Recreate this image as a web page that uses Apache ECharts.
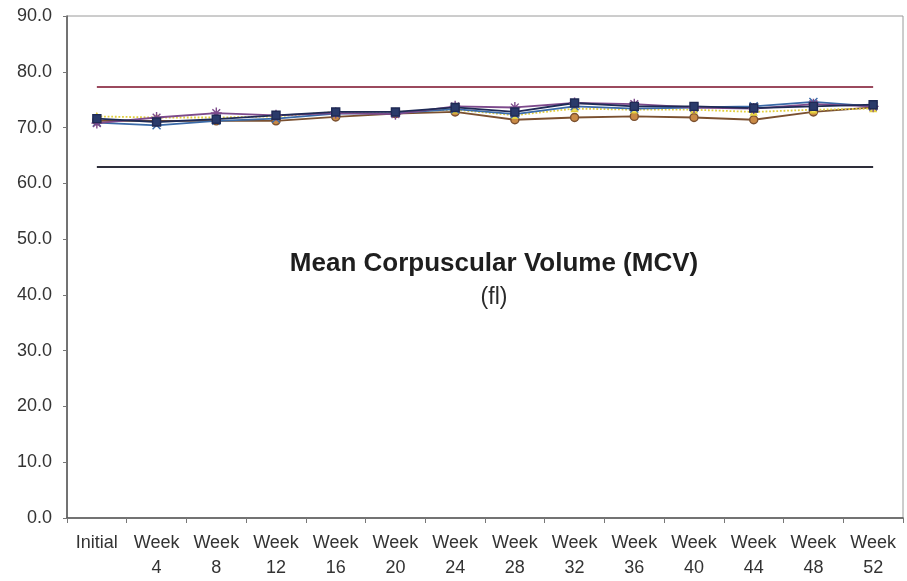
<!DOCTYPE html>
<html>
<head>
<meta charset="utf-8">
<script src="https://cdn.jsdelivr.net/npm/echarts@6/dist/echarts.min.js"></script>
<style>
  html, body { margin: 0; padding: 0; background: #fff; }
  #chart { width: 907px; height: 581px; }
</style>
</head>
<body>
<div id="chart"></div>
<script>
// Visit labels along the x axis
const categories = ['Initial', 'Week\n4', 'Week\n8', 'Week\n12', 'Week\n16', 'Week\n20', 'Week\n24',
  'Week\n28', 'Week\n32', 'Week\n36', 'Week\n40', 'Week\n44', 'Week\n48', 'Week\n52'];

// MCV (fl) per subject at each visit
const subjectA = [71.6, 71.0, 71.5, 72.2, 72.8, 72.8, 73.6, 72.8, 74.4, 73.8, 73.8, 73.5, 73.8, 74.1];
const subjectB = [70.8, 71.8, 72.6, 72.2, 72.6, 72.4, 73.8, 73.6, 74.4, 74.2, 73.6, 73.4, 74.2, 73.8];
const subjectC = [71.2, 71.2, 71.2, 71.2, 71.9, 72.5, 72.8, 71.4, 71.8, 72.0, 71.8, 71.4, 72.8, 73.6];
const subjectD = [72.0, 71.8, 71.8, 72.0, 72.8, 72.8, 73.2, 72.2, 73.4, 73.2, 73.2, 72.8, 73.2, 73.4];
const subjectE = [70.9, 70.4, 71.2, 71.6, 72.5, 72.6, 73.3, 72.4, 73.8, 73.4, 73.6, 73.8, 74.6, 73.8];

// Reference range limits (fl)
const upperLimit = 77.3;
const lowerLimit = 63.0;

// Y axis tick labels
const yTicks = ['0.0', '10.0', '20.0', '30.0', '40.0', '50.0', '60.0', '70.0', '80.0', '90.0'];

const FONT = '"Liberation Sans", Arial, sans-serif';
const asterisk = 'path://M0,5L10,5M5,0L5,10M1.5,1.5L8.5,8.5M8.5,1.5L1.5,8.5';
const cross = 'path://M0,0L10,10M10,0L0,10';

function subjectSeries(name, data, color, symbol, size, fill, lineType) {
  return {
    name, type: 'line', data,
    symbol, symbolSize: size,
    lineStyle: { color, width: 1.8, type: lineType || 'solid' },
    itemStyle: { color: fill, borderColor: color, borderWidth: 1.4 },
    emphasis: { disabled: true },
    z: 3
  };
}

function limitLine(name, value, color) {
  return {
    name, type: 'line', data: [],
    markLine: {
      silent: true, symbol: 'none', label: { show: false },
      lineStyle: { color, width: 2, type: 'solid' },
      data: [[{ coord: [0, value] }, { coord: [categories.length - 1, value] }]]
    }
  };
}

const chart = echarts.init(document.getElementById('chart'));
chart.setOption({
  animation: false,
  backgroundColor: '#ffffff',
  grid: { left: 67, right: 4, top: 16, bottom: 59, show: true, borderColor: '#9a9a9a', borderWidth: 1 },
  title: [
    {
      text: 'Mean Corpuscular Volume (MCV)',
      left: 489, top: 259, textAlign: 'center', textVerticalAlign: 'middle',
      textStyle: { fontFamily: FONT, fontSize: 26, fontWeight: 'bold', color: '#1e1e1e' }
    },
    {
      text: '(fl)',
      left: 489, top: 293, textAlign: 'center', textVerticalAlign: 'middle',
      textStyle: { fontFamily: FONT, fontSize: 23, fontWeight: 'normal', color: '#2a2a2a' }
    }
  ],
  xAxis: {
    type: 'category', data: categories, boundaryGap: true,
    axisLine: { lineStyle: { color: '#555', width: 1.5 } },
    axisTick: { show: true, length: 5, lineStyle: { color: '#777' } },
    axisLabel: { fontFamily: FONT, fontSize: 18, color: '#333', lineHeight: 25, margin: 13, interval: 0 },
    splitLine: { show: false }
  },
  yAxis: {
    type: 'value', min: 0, max: 90, interval: 10,
    axisLine: { show: true, lineStyle: { color: '#555', width: 1.5 } },
    axisTick: { show: true, length: 4, lineStyle: { color: '#777' } },
    axisLabel: {
      fontFamily: FONT, fontSize: 18, color: '#333', margin: 15,
      formatter: (v) => yTicks[Math.round(v / 10)]
    },
    splitLine: { show: false }
  },
  series: [
    limitLine('Upper limit', upperLimit, '#9b4a5e'),
    limitLine('Lower limit', lowerLimit, '#2e2e3a'),
    subjectSeries('C', subjectC, '#7a5030', 'circle', 8, '#c98a45'),
    subjectSeries('D', subjectD, '#e2cf3c', 'triangle', 6, '#f0e060', 'dotted'),
    subjectSeries('E', subjectE, '#3a6aa8', cross, 8, 'none'),
    subjectSeries('B', subjectB, '#7d4a8c', asterisk, 11, 'none'),
    subjectSeries('A', subjectA, '#1f2a55', 'rect', 8, '#2a3a6a')
  ]
});
</script>
</body>
</html>
